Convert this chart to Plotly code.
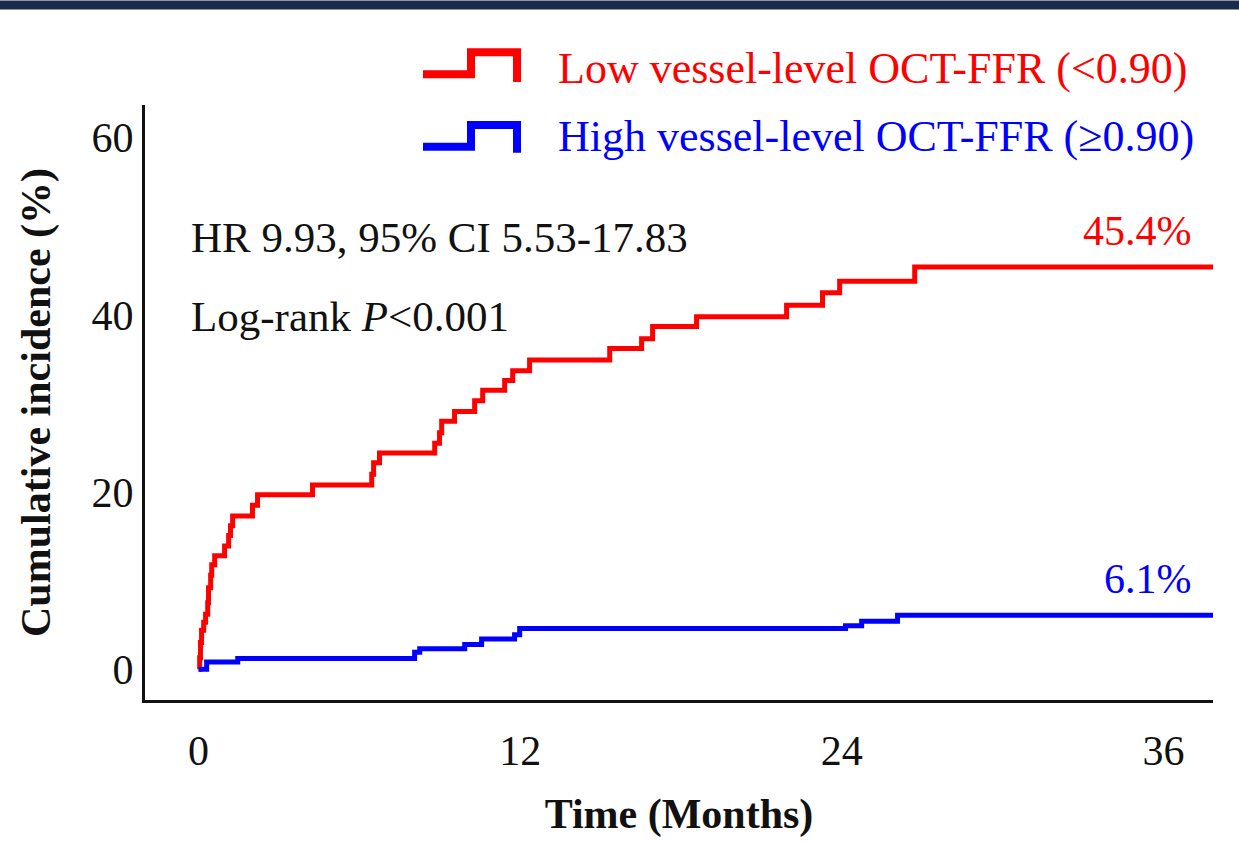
import plotly.graph_objects as go

# ---- data ----
low_t = [0, 0.04, 0.07, 0.11, 0.19, 0.26, 0.34, 0.37, 0.45, 0.49, 0.60, 0.97, 1.12, 1.19, 1.27,
         2.01, 2.20, 4.25, 6.46, 6.53, 6.75, 8.81, 8.99, 9.07, 9.55, 10.30, 10.60, 11.42, 11.72,
         12.35, 15.34, 16.53, 16.94, 18.58, 21.94, 23.28, 23.92, 26.72, 37.85]
low_y = [0, 1.3, 3.0, 4.4, 5.3, 6.2, 7.5, 9.2, 10.6, 11.8, 12.8, 13.9, 15.1, 16.2, 17.3,
         18.5, 19.7, 20.8, 22.0, 23.3, 24.4, 25.5, 26.7, 28.0, 29.1, 30.3, 31.5, 32.6, 33.7,
         34.9, 36.2, 37.3, 38.7, 39.8, 41.1, 42.5, 43.8, 45.4, 45.4]

high_t = [0, 0.30, 1.46, 8.06, 8.25, 9.93, 10.56, 11.79, 11.98, 24.14, 24.74, 26.08, 37.85]
high_y = [0, 0.8, 1.2, 1.9, 2.3, 2.8, 3.4, 3.9, 4.6, 4.9, 5.4, 6.1, 6.1]

x_ticks = [0, 12, 24, 36]
y_ticks = [0, 20, 40, 60]

low_name = "Low vessel-level OCT-FFR (&lt;0.90)"
high_name = "High vessel-level OCT-FFR (≥0.90)"
hr_text = "HR 9.93, 95% CI 5.53-17.83"
lr_text = "Log-rank <i>P</i>&lt;0.001"
low_end = "45.4%"
high_end = "6.1%"

RED = "#FF0000"
BLUE = "#0000FF"
FONT = "Liberation Serif"

W, H = 1239, 842
ML, MR, MT, MB = 145, 26, 105, 139
PW, PH = W - ML - MR, H - MT - MB


def px(x):
    return (x - ML) / PW


def py(y):
    return (H - MB - y) / PH


fig = go.Figure()
fig.add_trace(go.Scatter(x=low_t, y=low_y, mode="lines", line=dict(shape="hv", color=RED, width=5),
                         name=low_name, showlegend=False))
fig.add_trace(go.Scatter(x=high_t, y=high_y, mode="lines", line=dict(shape="hv", color=BLUE, width=5),
                         name=high_name, showlegend=False))

shapes = [
    # top navy band
    dict(type="rect", xref="paper", yref="paper", x0=px(0), x1=px(W), y0=py(9), y1=py(0),
         fillcolor="#1B2A4A", line=dict(width=0), layer="above"),
    # legend step icons
    dict(type="path", xref="paper", yref="paper",
         path=f"M {px(423)} {py(74)} L {px(471)} {py(74)} L {px(471)} {py(52)} L {px(517)} {py(52)} L {px(517)} {py(82)}",
         line=dict(color=RED, width=8)),
    dict(type="path", xref="paper", yref="paper",
         path=f"M {px(423)} {py(147)} L {px(471)} {py(147)} L {px(471)} {py(125)} L {px(517)} {py(125)} L {px(517)} {py(153)}",
         line=dict(color=BLUE, width=8)),
]

ann = [
    dict(text=low_name, x=px(556), y=py(68), xanchor="left", yanchor="middle",
         font=dict(family=FONT, size=44, color=RED)),
    dict(text=high_name, x=px(556), y=py(137), xanchor="left", yanchor="middle",
         font=dict(family=FONT, size=44, color=BLUE)),
    dict(text=hr_text, x=px(189), y=py(238), xanchor="left", yanchor="middle",
         font=dict(family=FONT, size=43, color="#111111")),
    dict(text=lr_text, x=px(189), y=py(318), xanchor="left", yanchor="middle",
         font=dict(family=FONT, size=43, color="#111111")),
    dict(text=low_end, x=px(1194), y=py(232), xanchor="right", yanchor="middle",
         font=dict(family=FONT, size=42, color=RED)),
    dict(text=high_end, x=px(1194), y=py(581), xanchor="right", yanchor="middle",
         font=dict(family=FONT, size=42, color=BLUE)),
]
for a in ann:
    a.update(xref="paper", yref="paper", showarrow=False)

fig.update_layout(
    width=W, height=H, autosize=False,
    margin=dict(l=ML, r=MR, t=MT, b=MB, pad=0),
    paper_bgcolor="white", plot_bgcolor="white",
    shapes=shapes, annotations=ann, showlegend=False,
    font=dict(family=FONT, color="#111111"),
)
fig.update_xaxes(
    range=[-2.0, 37.85], tickvals=x_ticks, ticktext=[str(v) for v in x_ticks],
    showline=True, linecolor="#111111", linewidth=3, ticks="", showgrid=False, zeroline=False,
    tickfont=dict(family=FONT, size=42, color="#111111"), ticklabelstandoff=12,
    title=dict(text="<b>Time (Months)</b>", font=dict(family=FONT, size=42, color="#111111"), standoff=26),
)
fig.update_yaxes(
    range=[-3.48, 63.7], tickvals=y_ticks, ticktext=[str(v) for v in y_ticks],
    showline=True, linecolor="#111111", linewidth=3, ticks="", showgrid=False, zeroline=False,
    tickfont=dict(family=FONT, size=42, color="#111111"), ticklabelstandoff=0,
    title=dict(text="<b>Cumulative incidence (%)</b>", font=dict(family=FONT, size=42, color="#111111"), standoff=28),
)

fig.write_html("out.html", config={"displayModeBar": False},
               post_script="document.body.style.margin='0';document.body.style.overflow='hidden';")
